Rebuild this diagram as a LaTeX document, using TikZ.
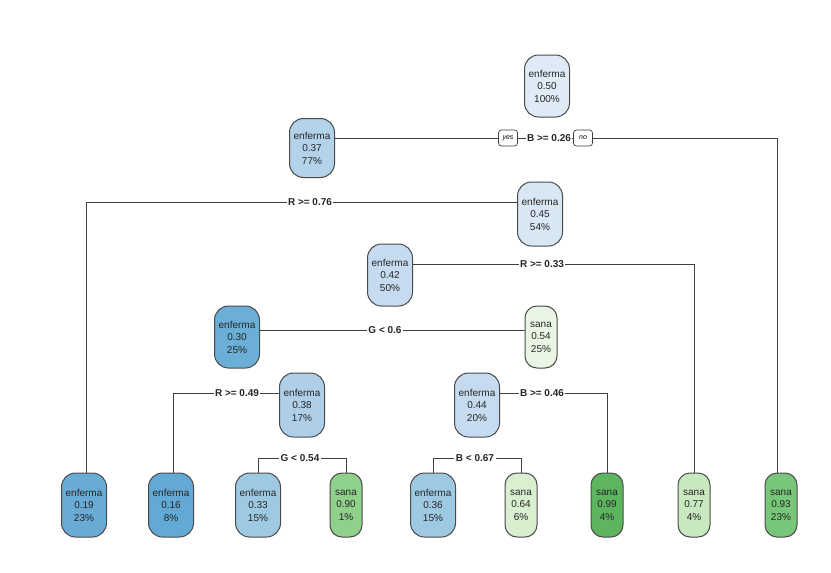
\documentclass[tikz,border=0pt]{standalone}
\usepackage{fontspec}
\setmainfont{Liberation Sans}
\usetikzlibrary{positioning}
\definecolor{b50}{HTML}{DEEBF7}
\definecolor{b45}{HTML}{D9E7F5}
\definecolor{b42}{HTML}{C6DBEF}
\definecolor{b38}{HTML}{AFCFE9}
\definecolor{b37}{HTML}{B3D3EA}
\definecolor{b33}{HTML}{9DC9E3}
\definecolor{b30}{HTML}{6BAED6}
\definecolor{b19}{HTML}{68ACD6}
\definecolor{b16}{HTML}{63A9D5}
\definecolor{g54}{HTML}{E8F6E3}
\definecolor{g64}{HTML}{D8F0D0}
\definecolor{g77}{HTML}{C8E9C0}
\definecolor{g90}{HTML}{8FD08A}
\definecolor{g93}{HTML}{78C679}
\definecolor{g99}{HTML}{5DB560}
\definecolor{edgec}{HTML}{4A4A4A}
\tikzset{
  tnode/.style={draw=edgec, line width=1pt, rounded corners=14pt, align=center,
    minimum width=45pt, minimum height=62pt, inner sep=1pt,
    font=\fontsize{10}{12.5}\selectfont, text=black!85},
  snode/.style={tnode, minimum width=32pt, rounded corners=12pt},
  conn/.style={draw=black!75, line width=0.8pt},
  slabel/.style={fill=white, inner sep=1.5pt, font=\fontsize{10}{12}\selectfont\bfseries, text=black!85},
  yn/.style={draw=black!75, fill=white, rounded corners=3pt, line width=0.7pt, inner sep=1.5pt,
    minimum width=19pt, minimum height=16pt, font=\fontsize{7}{8}\selectfont\itshape},
}
\begin{document}
\begin{tikzpicture}[x=1pt,y=-1pt]
\useasboundingbox (0,0) rectangle (831,573);
% internal nodes
\node[tnode, fill=b50] (n1) at (547,86) {enferma\\0.50\\100\%};
\node[tnode, fill=b37, minimum height=59pt] (n2) at (312,148) {enferma\\0.37\\77\%};
\node[tnode, fill=b45, minimum height=64pt] (n3) at (540,214) {enferma\\0.45\\54\%};
\node[tnode, fill=b42] (n4) at (390,275) {enferma\\0.42\\50\%};
\node[tnode, fill=b30] (n5) at (237,337) {enferma\\0.30\\25\%};
\node[snode, fill=g54] (n6) at (541,337) {sana\\0.54\\25\%};
\node[tnode, fill=b38, minimum height=64pt] (n7) at (302,405) {enferma\\0.38\\17\%};
\node[tnode, fill=b42, minimum height=64pt] (n8) at (477,405) {enferma\\0.44\\20\%};
% leaves
\node[tnode, fill=b19, minimum height=64pt] (l1) at (84,505) {enferma\\0.19\\23\%};
\node[tnode, fill=b16, minimum height=64pt] (l2) at (171,505) {enferma\\0.16\\8\%};
\node[tnode, fill=b33, minimum height=64pt] (l3) at (258,505) {enferma\\0.33\\15\%};
\node[snode, fill=g90, minimum height=64pt] (l4) at (346,505) {sana\\0.90\\1\%};
\node[tnode, fill=b33, minimum height=64pt] (l5) at (433,505) {enferma\\0.36\\15\%};
\node[snode, fill=g64, minimum height=64pt] (l6) at (521,505) {sana\\0.64\\6\%};
\node[snode, fill=g99, minimum height=64pt] (l7) at (607,505) {sana\\0.99\\4\%};
\node[snode, fill=g77, minimum height=64pt] (l8) at (694,505) {sana\\0.77\\4\%};
\node[snode, fill=g93, minimum height=64pt] (l9) at (781,505) {sana\\0.93\\23\%};
% split 1
\coordinate (s1) at (777,138);
\draw[conn] (n2.east |- 0,138) -- (s1) -- (l9.north -| s1);
\node[slabel] (lab1) at (549,138) {B >= 0.26};
\node[yn] (yes) at (508,138) {yes};
\node[yn] (no) at (583,138) {no};
% split 2
\coordinate (s2) at (86,202);
\draw[conn] (l1.north -| s2) -- (s2) -- (n3.west |- 0,202);
\node[slabel] (lab2) at (310,202) {R >= 0.76};
% split 3
\coordinate (s3) at (694,264);
\draw[conn] (n4.east |- 0,264) -- (s3) -- (l8.north);
\node[slabel] (lab3) at (542,264) {R >= 0.33};
% split 4
\draw[conn] (n5.east |- 0,330) -- (n6.west |- 0,330);
\node[slabel] (lab4) at (385,330) {G < 0.6};
% split 5
\coordinate (s5) at (173,393);
\draw[conn] (l2.north -| s5) -- (s5) -- (n7.west |- 0,393);
\node[slabel] (lab5) at (237,393) {R >= 0.49};
% split 6
\coordinate (s6) at (607,393);
\draw[conn] (n8.east |- 0,393) -- (s6) -- (l7.north);
\node[slabel] (lab6) at (542,393) {B >= 0.46};
% split 7
\coordinate (s7a) at (258,458);
\coordinate (s7b) at (346,458);
\draw[conn] (l3.north) -- (s7a) -- (s7b) -- (l4.north);
\node[slabel] (lab7) at (300,458) {G < 0.54};
% split 8
\coordinate (s8a) at (433,458);
\coordinate (s8b) at (521,458);
\draw[conn] (l5.north) -- (s8a) -- (s8b) -- (l6.north);
\node[slabel] (lab8) at (475,458) {B < 0.67};
\end{tikzpicture}
\end{document}
